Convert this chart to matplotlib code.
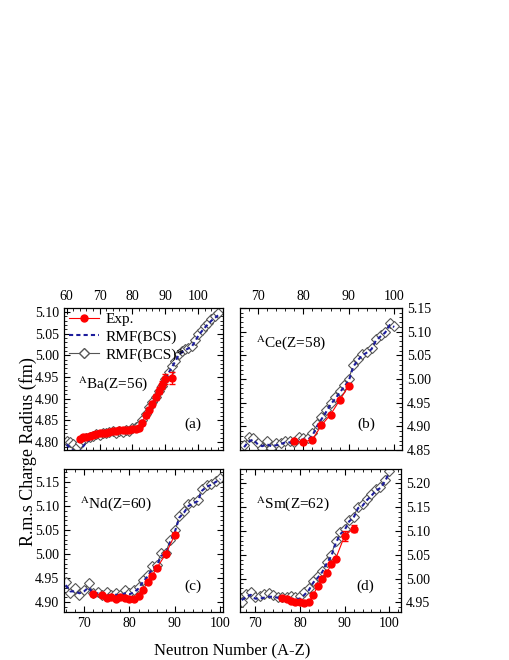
import matplotlib
matplotlib.use("Agg")
import matplotlib.pyplot as plt
from matplotlib.ticker import MultipleLocator, AutoMinorLocator, FormatStrFormatter
from matplotlib.lines import Line2D

plt.rcParams['font.family'] = ['Liberation Serif', 'DejaVu Serif']
plt.rcParams['mathtext.fontset'] = 'stix'

# ---------------- Ba (Z=56) ----------------
ba_n_th = list(range(60, 107))
ba_star = [4.803, 4.800, 4.795, 4.788, 4.797, 4.805, 4.810, 4.812, 4.815, 4.818,
           4.817, 4.820, 4.822, 4.823, 4.826, 4.822, 4.825, 4.824, 4.828, 4.826,
           4.832, 4.834, 4.840, 4.852, 4.866, 4.880, 4.893, 4.905, 4.918, 4.930,
           4.945, 4.962, 4.975, 4.988, 5.003, 5.010, 5.014, 5.018, 5.022, 5.035,
           5.048, 5.058, 5.067, 5.075, 5.083, 5.090, 5.097]
ba_bcs = [4.795, 4.787, 4.780, 4.776, 4.778, 4.790, 4.800, 4.806, 4.810, 4.813,
          4.815, 4.817, 4.818, 4.820, 4.821, 4.820, 4.822, 4.822, 4.824, 4.824,
          4.828, 4.832, 4.838, 4.850, 4.863, 4.877, 4.890, 4.903, 4.916, 4.928,
          4.943, 4.960, 4.973, 4.986, 5.000, 5.007, 5.012, 5.016, 5.020, 5.032,
          5.045, 5.055, 5.064, 5.072, 5.080, 5.086, 5.092]
ba_n_exp = [64, 65, 66, 67, 68, 69, 70, 71, 72, 73, 74, 75, 76, 77, 78, 79, 80,
            81, 82, 83, 84, 85, 86, 87, 88, 89, 90, 92]
ba_exp = [4.808, 4.813, 4.812, 4.815, 4.817, 4.819, 4.820, 4.821, 4.822, 4.823,
          4.825, 4.826, 4.827, 4.828, 4.829, 4.829, 4.830, 4.830, 4.833, 4.845,
          4.862, 4.875, 4.888, 4.903, 4.918, 4.932, 4.946, 4.947]
ba_err = [0.004, 0.004, 0.004, 0.004, 0.004, 0.004, 0.004, 0.004, 0.004, 0.004,
          0.004, 0.004, 0.004, 0.004, 0.004, 0.004, 0.004, 0.004, 0.004, 0.005,
          0.006, 0.006, 0.007, 0.007, 0.008, 0.009, 0.012, 0.014]

# ---------------- Ce (Z=58) ----------------
ce_n_th = list(range(67, 101))
ce_star = [4.861, 4.877, 4.875, 4.865, 4.854, 4.870, 4.854, 4.865, 4.865, 4.870,
           4.868, 4.866, 4.877, 4.876, 4.875, 4.885, 4.905, 4.920, 4.935, 4.950,
           4.962, 4.975, 4.987, 5.000, 5.030, 5.042, 5.052, 5.058, 5.065, 5.085,
           5.093, 5.100, 5.118, 5.113]
ce_bcs = [4.856, 4.868, 4.872, 4.862, 4.858, 4.862, 4.858, 4.860, 4.862, 4.866,
          4.866, 4.864, 4.872, 4.872, 4.872, 4.880, 4.900, 4.915, 4.930, 4.946,
          4.958, 4.971, 4.984, 4.996, 5.026, 5.040, 5.050, 5.056, 5.063, 5.082,
          5.090, 5.098, 5.114, 5.110]
ce_n_exp = [78, 80, 82, 84, 86, 88, 90]
ce_exp = [4.868, 4.867, 4.872, 4.902, 4.925, 4.955, 4.986]
ce_err = [0.003, 0.003, 0.003, 0.003, 0.003, 0.003, 0.003]

# ---------------- Nd (Z=60) ----------------
nd_n_th = list(range(66, 101))
nd_star = [4.942, 4.918, 4.928, 4.914, 4.925, 4.939, 4.918, 4.921, 4.914, 4.920,
           4.914, 4.918, 4.914, 4.925, 4.918, 4.925, 4.932, 4.946, 4.956, 4.974,
           4.977, 5.002, 5.002, 5.030, 5.049, 5.080, 5.089, 5.104, 5.108, 5.113,
           5.136, 5.143, 5.146, 5.153, 5.159]
nd_bcs = [4.935, 4.922, 4.922, 4.918, 4.922, 4.930, 4.918, 4.918, 4.914, 4.916,
          4.913, 4.915, 4.913, 4.918, 4.916, 4.920, 4.928, 4.942, 4.953, 4.968,
          4.975, 4.996, 5.000, 5.026, 5.046, 5.076, 5.086, 5.100, 5.105, 5.110,
          5.132, 5.140, 5.144, 5.150, 5.156]
nd_n_exp = [72, 74, 75, 76, 77, 78, 79, 80, 81, 82, 83, 84, 85, 86, 88, 90]
nd_exp = [4.916, 4.914, 4.909, 4.911, 4.907, 4.911, 4.909, 4.907, 4.906, 4.913,
          4.925, 4.942, 4.955, 4.970, 5.000, 5.040]
nd_err = [0.003] * 16

# ---------------- Sm (Z=62) ----------------
sm_n_th = list(range(67, 101))
sm_star = [4.952, 4.968, 4.973, 4.961, 4.964, 4.968, 4.970, 4.966, 4.962, 4.962,
           4.961, 4.964, 4.962, 4.963, 4.971, 4.980, 4.996, 5.006, 5.017, 5.035,
           5.050, 5.078, 5.097, 5.105, 5.123, 5.130, 5.151, 5.156, 5.168, 5.177,
           5.188, 5.193, 5.207, 5.225]
sm_bcs = [4.955, 4.962, 4.966, 4.958, 4.958, 4.960, 4.962, 4.962, 4.960, 4.958,
          4.957, 4.958, 4.957, 4.958, 4.966, 4.976, 4.992, 5.002, 5.014, 5.032,
          5.047, 5.074, 5.093, 5.102, 5.120, 5.128, 5.148, 5.153, 5.165, 5.174,
          5.185, 5.190, 5.204, 5.222]
sm_n_exp = [76, 77, 78, 79, 80, 81, 82, 83, 84, 85, 86, 87, 88, 90, 92]
sm_exp = [4.960, 4.957, 4.954, 4.951, 4.950, 4.948, 4.951, 4.966, 4.985, 5.000,
          5.012, 5.030, 5.042, 5.090, 5.105]
sm_err = [0.003] * 13 + [0.010, 0.008]

labels = [r"$^{\mathrm{A}}$Ba(Z=56)", r"$^{\mathrm{A}}$Ce(Z=58)",
          r"$^{\mathrm{A}}$Nd(Z=60)", r"$^{\mathrm{A}}$Sm(Z=62)"]
tags = ["(a)", "(b)", "(c)", "(d)"]

fig = plt.figure(figsize=(5.1, 6.6), dpi=100)
W, H = 510, 660

def ax_at(l, t, r, b):
    return fig.add_axes([l / W, 1 - b / H, (r - l) / W, (b - t) / H])

axa = ax_at(64, 308, 223, 450)
axb = ax_at(240, 308, 402, 450)
axc = ax_at(64, 469, 223, 612)
axd = ax_at(240, 469, 401, 612)

panels = [
    (axa, ba_n_th, ba_star, ba_bcs, ba_n_exp, ba_exp, ba_err, (59.2, 107.5), (4.782, 5.109)),
    (axb, ce_n_th, ce_star, ce_bcs, ce_n_exp, ce_exp, ce_err, (66.1, 101.7), (4.85, 5.15)),
    (axc, nd_n_th, nd_star, nd_bcs, nd_n_exp, nd_exp, nd_err, (65.6, 100.6), (4.879, 5.177)),
    (axd, sm_n_th, sm_star, sm_bcs, sm_n_exp, sm_exp, sm_err, (66.6, 102.6), (4.930, 5.230)),
]

blue = "#1c1c9c"
for i, (ax, nth, star, bcs, nexp, ex, er, xl, yl) in enumerate(panels):
    ax.plot(nth, star, color="#555555", lw=0.8, marker="D", ms=5.5,
            mfc="white", mec="#555555", mew=0.8, zorder=2, label="RMF(BCS)*")
    ax.plot(nth, bcs, color=blue, lw=1.5, ls=(0, (2, 1.5)), zorder=3, label="RMF(BCS)")
    ax.errorbar(nexp, ex, yerr=er, color="red", lw=0.8, marker="o", ms=5,
                mfc="red", mec="red", ecolor="red", elinewidth=0.9, capsize=2.5,
                zorder=4, label="Exp.")
    ax.set_xlim(*xl)
    ax.set_ylim(*yl)
    ax.xaxis.set_major_locator(MultipleLocator(10))
    ax.xaxis.set_minor_locator(AutoMinorLocator(5))
    ax.yaxis.set_major_locator(MultipleLocator(0.05))
    ax.yaxis.set_minor_locator(AutoMinorLocator(5))
    ax.yaxis.set_major_formatter(FormatStrFormatter("%.2f"))
    ax.tick_params(which="both", direction="in", top=True, bottom=True,
                   left=True, right=True, labelsize=10)
    ax.tick_params(which="major", length=4, width=0.8)
    ax.tick_params(which="minor", length=2, width=0.6)
    top = i < 2
    rightlab = i % 2 == 1
    ax.tick_params(labeltop=top, labelbottom=not top,
                   labelleft=not rightlab, labelright=rightlab)
    for s in ax.spines.values():
        s.set_linewidth(0.9)
    ax.text(0.09 if i == 0 else 0.10, 0.47 if i == 0 else 0.76, labels[i],
            transform=ax.transAxes, fontsize=11, ha="left", va="center")
    ax.text(0.81 if i % 2 == 0 else 0.78, 0.18, tags[i], transform=ax.transAxes,
            fontsize=11, ha="center", va="center")

h = [Line2D([], [], color="red", lw=0.8, marker="o", ms=5, mfc="red", mec="red"),
     Line2D([], [], color=blue, lw=1.5, ls=(0, (2, 1.5))),
     Line2D([], [], color="#555555", lw=0.8, marker="D", ms=5.5, mfc="white", mec="#555555")]
axa.legend(h, ["Exp.", "RMF(BCS)", "RMF(BCS)*"], loc="upper left", frameon=False,
           fontsize=11, handlelength=2.0, handletextpad=0.4, labelspacing=0.25,
           borderaxespad=0.2, borderpad=0.1)

fig.text(28 / W, 1 - 452 / H, "R.m.s Charge Radius (fm)", rotation=90,
         ha="center", va="center", fontsize=13)
fig.text(232 / W, 1 - 650 / H, "Neutron Number (A-Z)", ha="center", va="center",
         fontsize=12)

fig.savefig("out.png", dpi=100)
